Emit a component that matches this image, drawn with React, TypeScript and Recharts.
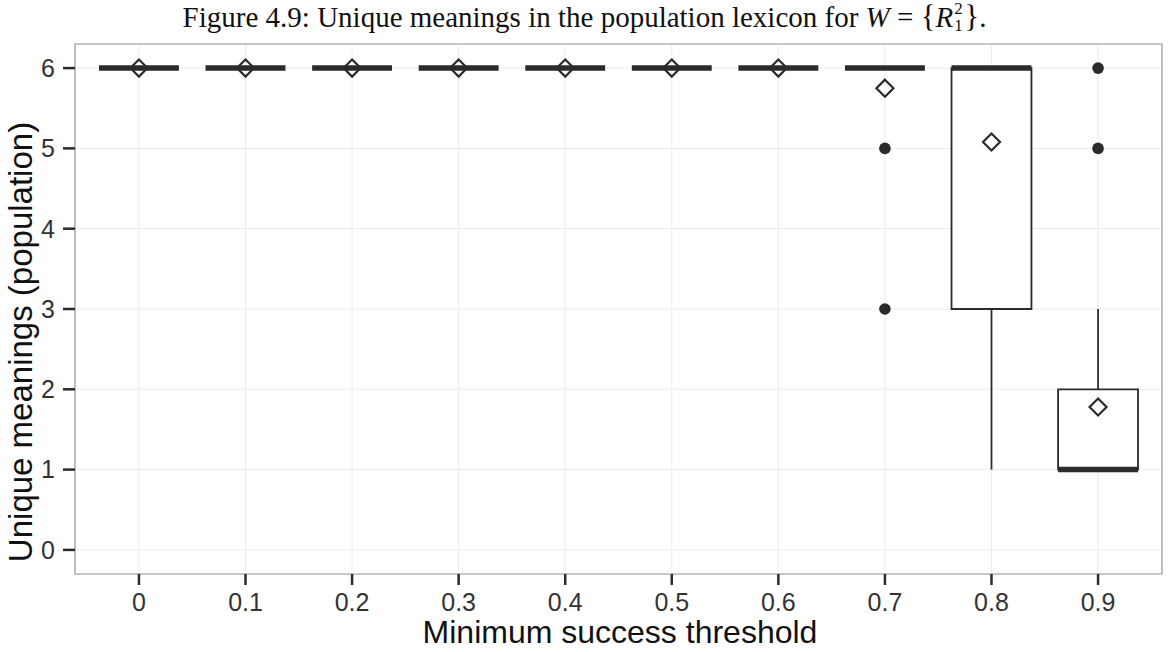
import React from 'react';
import {
  ScatterChart,
  Scatter,
  XAxis,
  YAxis,
  CartesianGrid,
  ReferenceArea,
  ReferenceLine,
} from 'recharts';

// ---- data ----
const categories = ['0', '0.1', '0.2', '0.3', '0.4', '0.5', '0.6', '0.7', '0.8', '0.9'];
const q1Values = [6, 6, 6, 6, 6, 6, 6, 6, 3, 1];
const medianValues = [6, 6, 6, 6, 6, 6, 6, 6, 6, 1];
const q3Values = [6, 6, 6, 6, 6, 6, 6, 6, 6, 2];
const whiskerLow = [6, 6, 6, 6, 6, 6, 6, 6, 1, 1];
const whiskerHigh = [6, 6, 6, 6, 6, 6, 6, 6, 6, 3];
const meanValues = [6, 6, 6, 6, 6, 6, 6, 5.75, 5.08, 1.78];
const outlierCategory = ['0.7', '0.7', '0.9', '0.9'];
const outlierValues = [5, 3, 6, 5];
const yTicks = [0, 1, 2, 3, 4, 5, 6];

const xTicks = categories.map((_, i) => i);
const meanData = categories.map((c, i) => ({ x: i, y: meanValues[i], label: c }));
const outlierData = outlierCategory.map((c, k) => ({ x: categories.indexOf(c), y: outlierValues[k], label: c }));

const HALF_BOX = 0.375;
const INK = '#2b2b2b';
const SANS = '"Liberation Sans", Arial, Helvetica, sans-serif';

const Diamond = (props: any) => {
  const { cx, cy } = props;
  if (cx == null || cy == null) return null;
  const r = 8.5;
  return (
    <path
      d={`M${cx},${cy - r} L${cx + r},${cy} L${cx},${cy + r} L${cx - r},${cy} Z`}
      fill="none"
      stroke={INK}
      strokeWidth={2.2}
    />
  );
};

const Dot = (props: any) => {
  const { cx, cy } = props;
  if (cx == null || cy == null) return null;
  return <circle cx={cx} cy={cy} r={5.8} fill={INK} />;
};

const YTitle = () => {
  const cx = 20;
  const cy = 342;
  return (
    <text
      x={cx}
      y={cy}
      transform={`rotate(-90, ${cx}, ${cy})`}
      textAnchor="middle"
      dominantBaseline="central"
      fontSize={33}
      fontFamily={SANS}
      fill="#111"
    >
      Unique meanings (population)
    </text>
  );
};

const XTitle = () => (
  <text
    x={620}
    y={632}
    textAnchor="middle"
    dominantBaseline="central"
    fontSize={32}
    fontFamily={SANS}
    fill="#111"
  >
    Minimum success threshold
  </text>
);

export default function App() {
  return (
    <div
      style={{
        position: 'absolute',
        left: 0,
        top: 0,
        width: 1169,
        height: 652,
        background: '#ffffff',
        overflow: 'hidden',
      }}
    >
      <div
        style={{
          position: 'absolute',
          left: 0,
          top: 1,
          width: 1169,
          textAlign: 'center',
          fontFamily: '"Liberation Serif", "Times New Roman", serif',
          fontSize: 29,
          color: '#111',
          lineHeight: '32px',
          whiteSpace: 'nowrap',
          zIndex: 2,
        }}
      >
        Figure 4.9: Unique meanings in the population lexicon for <i>W</i> ={' '}
        <span style={{ fontSize: 31 }}>{'{'}</span>
        <i>R</i>
        <span
          style={{
            position: 'relative',
            display: 'inline-block',
            width: 11,
            height: 10,
            fontSize: 17,
            lineHeight: '15px',
          }}
        >
          <span style={{ position: 'absolute', left: 1, top: -16 }}>2</span>
          <span style={{ position: 'absolute', left: 1, top: 1 }}>1</span>
        </span>
        <span style={{ fontSize: 31 }}>{'}'}</span>.
      </div>
      <ScatterChart
        width={1169}
        height={652}
        margin={{ top: 44, right: 7, bottom: 0, left: 0 }}
        style={{ position: 'absolute', left: 0, top: 0 }}
      >
        <CartesianGrid stroke="#ececec" strokeWidth={1} />
        <XAxis
          type="number"
          dataKey="x"
          domain={[-0.6, 9.6]}
          ticks={xTicks}
          allowDataOverflow
          tickFormatter={(v: number) => categories[v]}
          height={78}
          axisLine={false}
          tickLine={{ stroke: INK, strokeWidth: 2.5 }}
          tickSize={11}
          tickMargin={8}
          tick={{ fontSize: 25, fontFamily: SANS, fill: '#333' }}
          label={<XTitle />}
        />
        <YAxis
          type="number"
          dataKey="y"
          domain={[-0.3, 6.3]}
          ticks={yTicks}
          allowDataOverflow
          width={75}
          axisLine={false}
          tickLine={{ stroke: INK, strokeWidth: 2.5 }}
          tickSize={12}
          tickMargin={8}
          tick={{ fontSize: 25, fontFamily: SANS, fill: '#333' }}
          label={<YTitle />}
        />
        <ReferenceArea
          x1={-0.6}
          x2={9.6}
          y1={-0.3}
          y2={6.3}
          fill="none"
          stroke="#9a9a9a"
          strokeWidth={1.2}
          ifOverflow="visible"
        />
        {categories.map((c, i) =>
          whiskerHigh[i] > q3Values[i] ? (
            <ReferenceLine
              key={`wh-${c}`}
              segment={[
                { x: i, y: q3Values[i] },
                { x: i, y: whiskerHigh[i] },
              ]}
              stroke={INK}
              strokeWidth={1.8}
            />
          ) : null
        )}
        {categories.map((c, i) =>
          whiskerLow[i] < q1Values[i] ? (
            <ReferenceLine
              key={`wl-${c}`}
              segment={[
                { x: i, y: q1Values[i] },
                { x: i, y: whiskerLow[i] },
              ]}
              stroke={INK}
              strokeWidth={1.8}
            />
          ) : null
        )}
        {categories.map((c, i) =>
          q3Values[i] > q1Values[i] ? (
            <ReferenceArea
              key={`box-${c}`}
              x1={i - HALF_BOX}
              x2={i + HALF_BOX}
              y1={q1Values[i]}
              y2={q3Values[i]}
              fill="#ffffff"
              fillOpacity={1}
              stroke={INK}
              strokeWidth={1.8}
            />
          ) : null
        )}
        {categories.map((c, i) => (
          <ReferenceLine
            key={`med-${c}`}
            segment={[
              { x: i - HALF_BOX, y: medianValues[i] },
              { x: i + HALF_BOX, y: medianValues[i] },
            ]}
            stroke={INK}
            strokeWidth={5.5}
          />
        ))}
        <Scatter data={outlierData} shape={<Dot />} isAnimationActive={false} />
        <Scatter data={meanData} shape={<Diamond />} isAnimationActive={false} />
      </ScatterChart>
    </div>
  );
}
